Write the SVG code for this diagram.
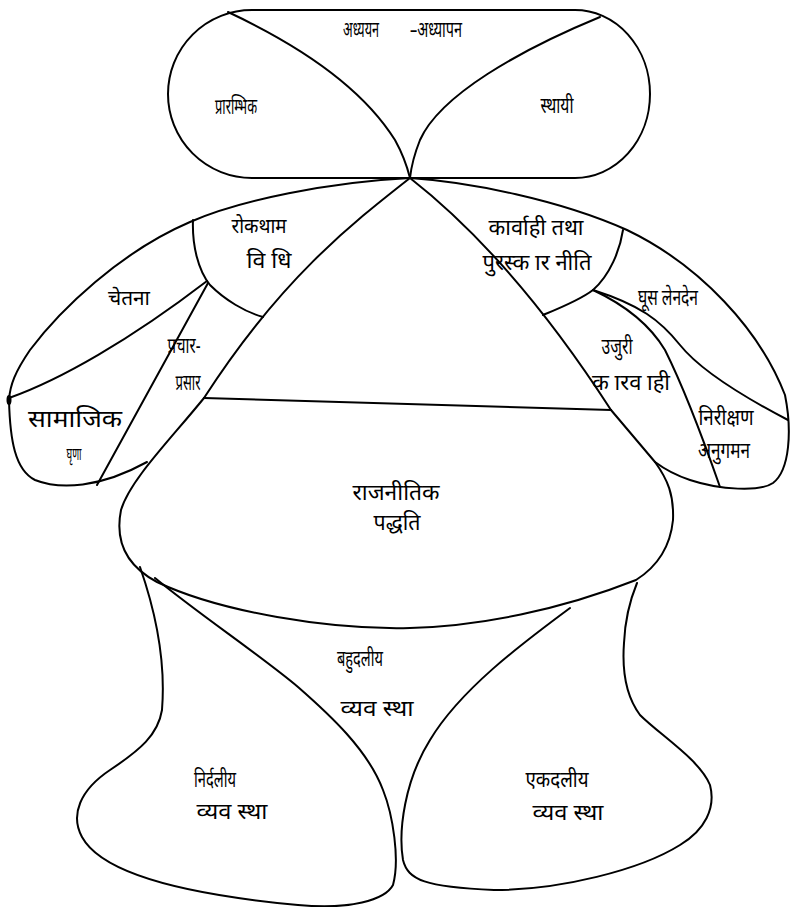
<svg xmlns="http://www.w3.org/2000/svg" width="790" height="907" viewBox="0 0 790 907">
<style>
.o{fill:none;stroke:#000;stroke-width:2;stroke-linejoin:round;stroke-linecap:round}
text{font-family:"Noto Sans","Liberation Sans",sans-serif;fill:#000;text-anchor:middle}
.s{font-size:22px}
.m{font-size:20px}
.l{font-size:22px}
</style>
<rect width="790" height="907" fill="#fff"/>
<g id="outlines">
<path class="o" d="M252,10 L575,10 A75,84 0 0 1 575,178 L252,178 A84,84 0 0 1 252,10 Z"/>
<path class="o" d="M228,12 C320,55 370,100 395,140 Q405,158 410,178"/>
<path class="o" d="M600,17 C520,50 440,95 420,140 Q412,160 410,178"/>
<path class="o" d="M410,178 C330,182 240,200 190,222 C120,252 60,310 30,350 C15,372 10,385 9,400"/>
<ellipse cx="9" cy="400" rx="2.5" ry="5" fill="#000"/>
<path class="o" d="M9,400 C10,440 15,470 35,480 C60,490 100,488 147,462"/>
<path class="o" d="M9,398 C60,380 130,340 207,281"/>
<path class="o" d="M193,220 C192,245 198,270 210,285 C225,300 245,312 263,317"/>
<path class="o" d="M208,283 L97,485"/>
<path class="o" d="M410,178 C350,225 280,280 204,398"/>
<path class="o" d="M204,398 L611,410"/>
<path class="o" d="M410,178 C470,225 540,300 611,410"/>
<path class="o" d="M204,398 C170,440 130,480 121,510 C115,540 125,565 157,582 C220,612 330,630 410,628 C480,626 560,610 636,580 C655,568 670,550 673,520 C674,495 668,480 655,462 L611,410"/>
<path class="o" d="M410,178 C470,182 560,200 627,230 C700,265 760,330 785,395 C792,430 790,470 773,483 C760,492 720,490 690,480 C675,475 663,468 655,462"/>
<path class="o" d="M623,230 C620,250 610,275 593,290 C580,300 560,308 543,315"/>
<path class="o" d="M593,290 C640,305 660,320 680,345 C700,370 740,395 788,420"/>
<path class="o" d="M593,290 C625,305 650,325 665,350 C680,380 700,430 720,487"/>
<path class="o" d="M140,567 C155,610 166,660 162,710 C158,735 140,750 110,770 C80,790 70,815 82,837 C100,870 170,893 298,905 C350,910 385,900 393,885 C400,860 393,815 383,790 C368,750 330,715 298,687 C260,655 200,615 155,578"/>
<path class="o" d="M570,608 C520,645 460,690 430,740 C405,780 398,830 403,860 C408,880 425,887 494,890 C560,890 640,870 680,845 C705,830 716,808 710,785 C700,760 660,735 640,715 C625,695 622,670 624,643 C625,620 630,600 637,583"/>
</g>
<g id="top">
<text class="s" x="361" y="37" textLength="36" lengthAdjust="spacingAndGlyphs">अध्ययन</text>
<text class="s" x="436" y="37" textLength="52" lengthAdjust="spacingAndGlyphs">–अध्यापन</text>
<text class="s" x="236" y="114" textLength="42" lengthAdjust="spacingAndGlyphs">प्रारम्भिक</text>
<text class="s" x="557" y="113" textLength="33" lengthAdjust="spacingAndGlyphs">स्थायी</text>
</g>
<g id="left-wing">
<text class="m" x="259" y="233" textLength="55" lengthAdjust="spacingAndGlyphs">रोकथाम</text>
<text class="l" x="269" y="268" textLength="45" lengthAdjust="spacingAndGlyphs">वि धि</text>
<text class="m" x="129" y="305" textLength="42" lengthAdjust="spacingAndGlyphs">चेतना</text>
<text class="s" x="184" y="353" textLength="33" lengthAdjust="spacingAndGlyphs">प्रचार-</text>
<text class="s" x="188" y="390" textLength="25" lengthAdjust="spacingAndGlyphs">प्रसार</text>
<text x="75" y="427" font-size="24" textLength="94" lengthAdjust="spacingAndGlyphs">सामाजिक</text>
<text x="74" y="460" font-size="17" textLength="15" lengthAdjust="spacingAndGlyphs">घृणा</text>
</g>
<g id="right-wing">
<text class="l" x="536" y="235" textLength="95" lengthAdjust="spacingAndGlyphs">कार्वाही तथा</text>
<text class="l" x="537" y="270" textLength="109" lengthAdjust="spacingAndGlyphs">पुरस्क&#160;ार  नीति</text>
<text class="s" x="668" y="305" textLength="60" lengthAdjust="spacingAndGlyphs">घूस लेनदेन</text>
<text class="s" x="617" y="354" textLength="31" lengthAdjust="spacingAndGlyphs">उजुरी</text>
<text class="l" x="631" y="390" textLength="78" lengthAdjust="spacingAndGlyphs">क&#160;ारव&#160;ाही</text>
<text class="s" x="726" y="425" textLength="55" lengthAdjust="spacingAndGlyphs">निरीक्षण</text>
<text class="s" x="724" y="458" textLength="52" lengthAdjust="spacingAndGlyphs">अनुगमन</text>
</g>
<g id="center">
<text class="l" x="396" y="500" textLength="87" lengthAdjust="spacingAndGlyphs">राजनीतिक</text>
<text class="l" x="397" y="530" textLength="47" lengthAdjust="spacingAndGlyphs">पद्धति</text>
</g>
<g id="bottom">
<text class="s" x="360" y="666" textLength="46" lengthAdjust="spacingAndGlyphs">बहुदलीय</text>
<text class="l" x="377" y="716" textLength="73" lengthAdjust="spacingAndGlyphs">व्यव स्था</text>
<text class="s" x="215" y="787" textLength="42" lengthAdjust="spacingAndGlyphs">निर्दलीय</text>
<text class="l" x="232" y="819" textLength="71" lengthAdjust="spacingAndGlyphs">व्यव स्था</text>
<text class="s" x="557" y="787" textLength="63" lengthAdjust="spacingAndGlyphs">एकदलीय</text>
<text class="l" x="568" y="820" textLength="71" lengthAdjust="spacingAndGlyphs">व्यव स्था</text>
</g>
</svg>
